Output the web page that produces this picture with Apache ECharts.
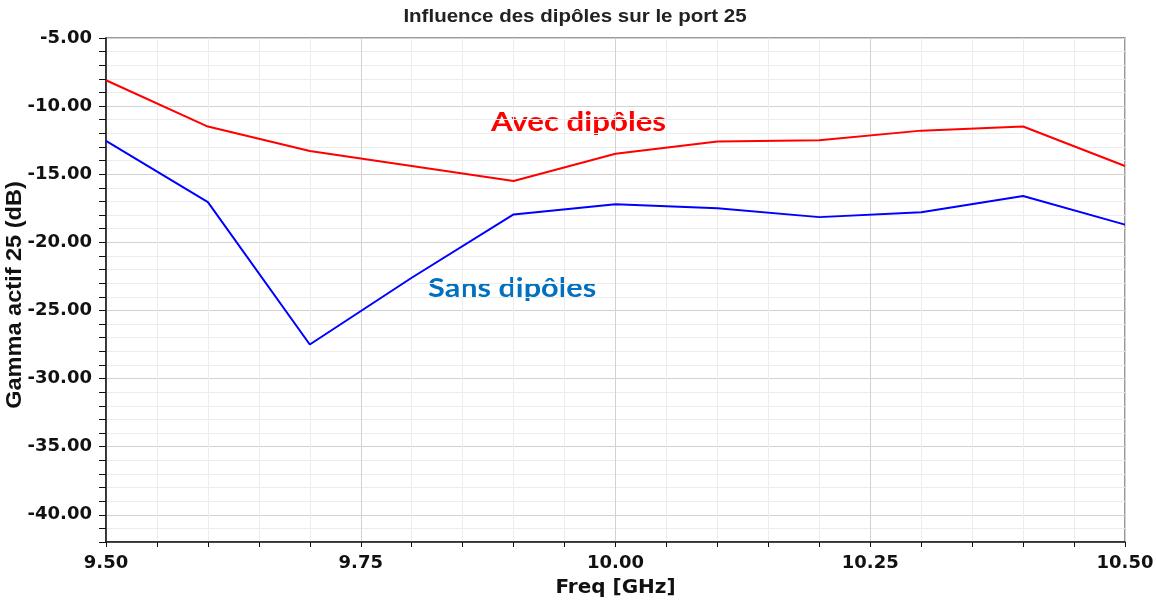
<!DOCTYPE html>
<html>
<head>
<meta charset="utf-8">
<script src="https://cdn.jsdelivr.net/npm/echarts@6/dist/echarts.min.js"></script>
<style>
  html, body { margin: 0; padding: 0; background: #fff; }
  #chart { width: 1156px; height: 601px; }
</style>
</head>
<body>
<div id="chart"></div>
<script>
// Frequency sweep (GHz) and active reflection coefficient of port 25 (dB)
const freqs = [9.5, 9.6, 9.7, 9.8, 9.9, 10.0, 10.1, 10.2, 10.3, 10.4, 10.5];
const avecDipoles = [-8.1, -11.5, -13.3, -14.4, -15.5, -13.5, -12.6, -12.5, -11.8, -11.5, -14.4];
const sansDipoles = [-12.55, -17.05, -27.5, -22.6, -17.95, -17.2, -17.5, -18.15, -17.8, -16.6, -18.7];

const titleText = 'Influence des dipôles sur le port 25';
const xName = 'Freq [GHz]';
const yName = 'Gamma actif 25 (dB)';
const labelAvec = 'Avec dipôles';
const labelSans = 'Sans dipôles';

const chart = echarts.init(document.getElementById('chart'), null, { renderer: 'canvas' });

const minorGrid = '#ececec';
const majorGrid = '#d2d2d2';
const axisFont = 'DejaVu Sans, Liberation Sans, Arial';

const toPairs = (ys) => freqs.map((f, i) => [f, ys[i]]);

chart.setOption({
  animation: false,
  backgroundColor: '#ffffff',
  grid: {
    left: 106, right: 31, top: 38, bottom: 59,
    outerBoundsMode: 'none', containLabel: false,
    show: true, borderColor: '#7a7a7a', borderWidth: 1.5, backgroundColor: 'transparent'
  },
  xAxis: {
    type: 'value', min: 9.5, max: 10.5, interval: 0.05,
    name: xName, nameLocation: 'middle', nameGap: 36,
    nameTextStyle: { fontFamily: axisFont, fontWeight: 'bold', fontSize: 20, color: '#111' },
    axisLine: { show: true, lineStyle: { color: '#111', width: 1.5 } },
    axisTick: { show: true, length: 5, lineStyle: { color: '#111' } },
    axisLabel: {
      margin: 12,
      fontFamily: axisFont, fontWeight: 'bold', fontSize: 18, color: '#111',
      formatter: (v) => (Math.round(v * 100) % 25 === 0 ? v.toFixed(2) : '')
    },
    splitLine: { show: true, lineStyle: { color: [majorGrid, minorGrid, minorGrid, minorGrid, minorGrid], width: 1 } }
  },
  yAxis: {
    type: 'value', min: -42, max: -5, interval: 1,
    axisLine: { show: true, lineStyle: { color: '#111', width: 1.5 } },
    axisTick: { show: true, length: 7, lineStyle: { color: '#111' } },
    axisLabel: {
      margin: 14,
      fontFamily: axisFont, fontWeight: 'bold', fontSize: 18, color: '#111',
      formatter: (v) => (Math.round(v) % 5 === 0 ? v.toFixed(2) : '')
    },
    splitLine: { show: true, lineStyle: { color: [minorGrid, minorGrid, majorGrid, minorGrid, minorGrid], width: 1 } }
  },
  series: [
    {
      name: labelAvec, type: 'line', data: toPairs(avecDipoles),
      showSymbol: false, lineStyle: { color: '#ff0000', width: 2 }, itemStyle: { color: '#ff0000' }
    },
    {
      name: labelSans, type: 'line', data: toPairs(sansDipoles),
      showSymbol: false, lineStyle: { color: '#0000ff', width: 2 }, itemStyle: { color: '#0000ff' }
    }
  ],
  graphic: [
    {
      type: 'text', x: 575, y: 17, scaleX: 1.14,
      style: {
        text: titleText, fill: '#222', textAlign: 'center', textVerticalAlign: 'middle',
        font: 'bold 18px "Liberation Sans", Arial, sans-serif'
      }
    },
    {
      // vertical axis title, rotated to read bottom-to-top
      type: 'text', x: 15, y: 295, rotation: Math.PI / 2, scaleX: 1.07,
      style: {
        text: yName, fill: '#111', textAlign: 'center', textVerticalAlign: 'middle',
        font: 'bold 22px "Liberation Sans", Arial, sans-serif'
      }
    },
    {
      type: 'text', x: 491, y: 110, scaleX: 1.2,
      style: { text: labelAvec, fill: '#ff0000', textVerticalAlign: 'top', font: 'bold 26px Lato, "Open Sans", sans-serif' }
    },
    {
      type: 'text', x: 428, y: 276, scaleX: 1.18,
      style: { text: labelSans, fill: '#0070c0', textVerticalAlign: 'top', font: 'bold 26px Lato, "Open Sans", sans-serif' }
    }
  ]
});
</script>
</body>
</html>
